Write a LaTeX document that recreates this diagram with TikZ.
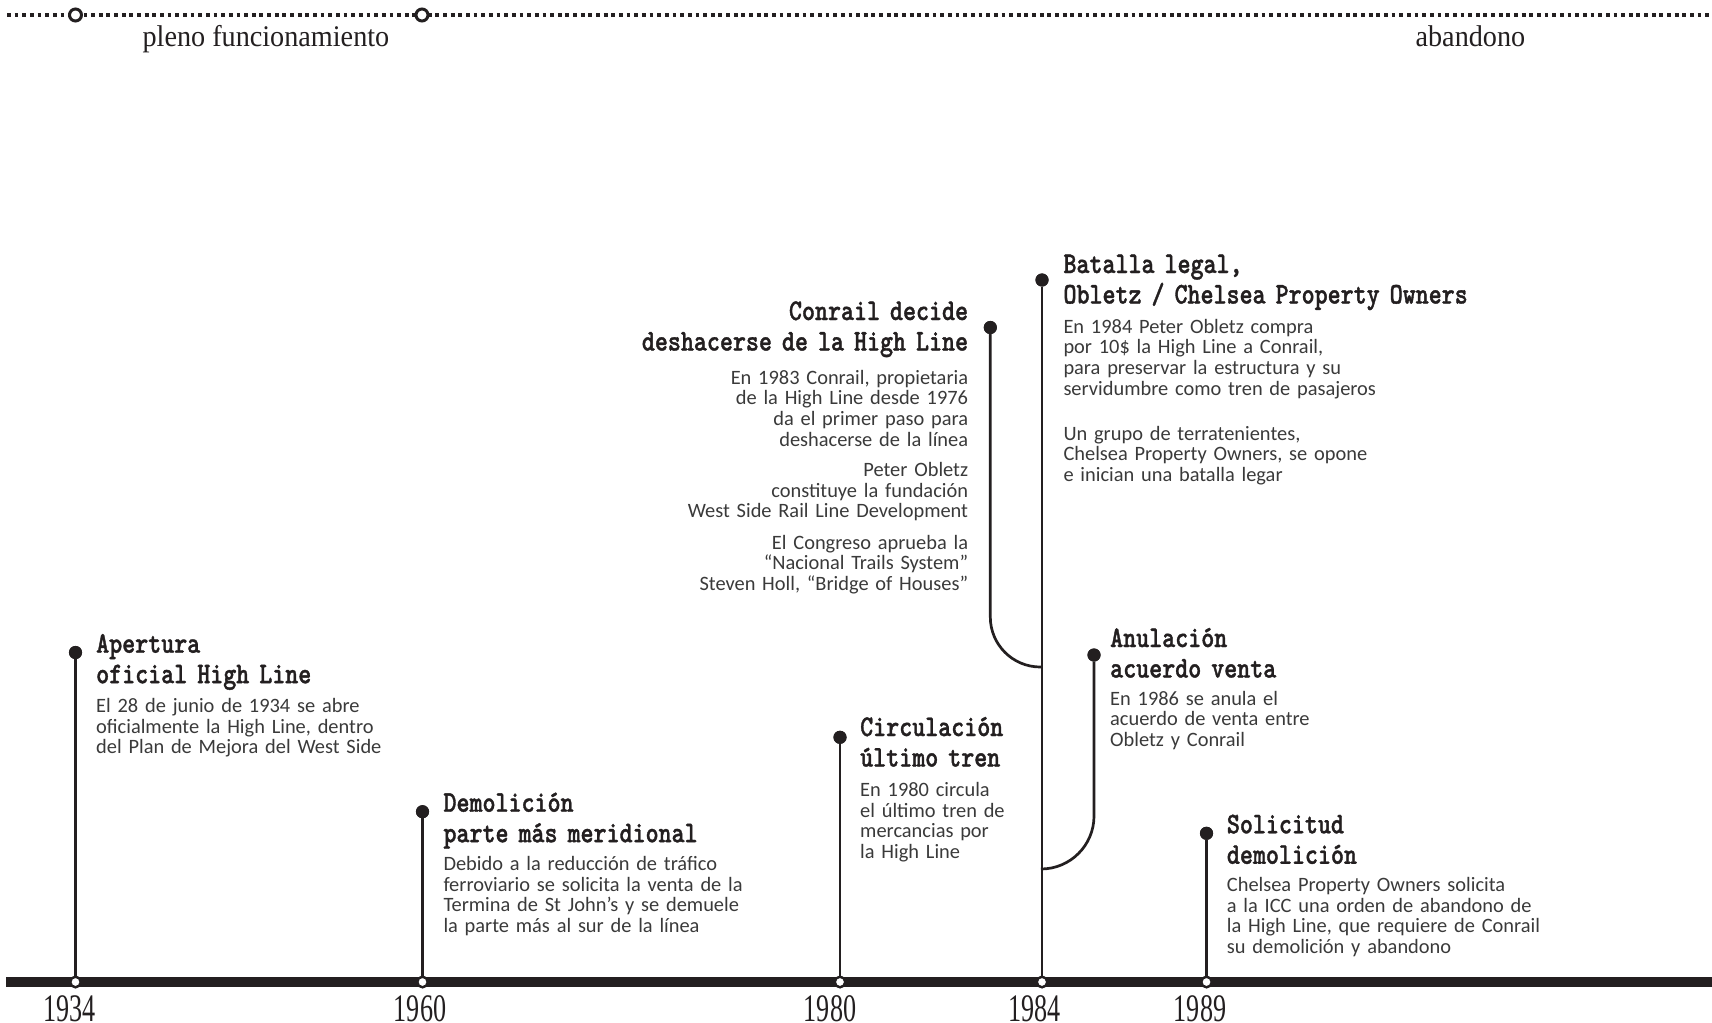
\documentclass[tikz,border=0pt]{standalone}
\usepackage{fontspec}
\setmainfont{Carlito}
\newfontfamily\titlefont{lmmonolt10-bold.otf}[FakeStretch=0.826,FakeBold=1.2]
\newfontfamily\yearfont{Liberation Serif}[FakeStretch=0.67]
\newfontfamily\labfont{Liberation Serif}[FakeStretch=0.94]
\definecolor{ink}{HTML}{231F20}
\definecolor{bodytext}{HTML}{3A3A3A}
\tikzset{
 ttl/.style={anchor=base west, inner sep=0pt, text width=600pt, align=left, font=\titlefont\fontsize{30pt}{30.5pt}\selectfont, text=ink},
 ttlr/.style={ttl, anchor=base east, align=right},
 body/.style={anchor=base west, inner sep=0pt, text width=500pt, align=left, font=\fontsize{20.4pt}{20.6pt}\selectfont, text=bodytext},
 bodyr/.style={body, anchor=base east, align=right},
 evdot/.style={circle, fill=ink, inner sep=0pt, minimum size=13pt},
 yrdot/.style={circle, draw=ink, fill=white, line width=2.3pt, inner sep=0pt, minimum size=10.4pt},
 topdot/.style={circle, draw=ink, fill=white, line width=3pt, inner sep=0pt, minimum size=12pt},
 stem/.style={draw=ink, line width=2.7pt},
 year/.style={anchor=base, inner sep=0pt, font=\yearfont\fontsize{39pt}{40pt}\selectfont, text=ink},
 phase/.style={anchor=base west, inner sep=0pt, font=\labfont\fontsize{30pt}{32pt}\selectfont, text=ink},
}
\begin{document}
\begin{tikzpicture}[x=1pt,y=-1pt]
\useasboundingbox[fill=white] (0,0) rectangle (1712,1022);
% top phase line
\coordinate (topL) at (7,15);
\coordinate (topR) at (1712,15);
\draw[ink, line width=3.8pt, dash pattern=on 3.8pt off 3.85pt] (topL) -- (topR);
\node[topdot] (t1) at (75.5,15) {};
\node[topdot] (t2) at (422,15) {};
\node[phase] (pleno) at (142.4,47) {pleno funcionamiento};
\node[phase] (aband) at (1415.4,47) {abandono};

% bar coordinates
\coordinate (barL) at (6,982);
\coordinate (barR) at (1712,982);

% event dots
\node[evdot] (d1934) at (75.5,652.5) {};
\node[evdot] (d1960) at (422.5,811.7) {};
\node[evdot] (d1980) at (840,737.3) {};
\node[evdot] (d1984) at (1042,280) {};
\node[evdot] (dcon) at (990.3,327.5) {};
\node[evdot] (danu) at (1094,655) {};
\node[evdot] (d1989) at (1206.5,833.3) {};
\coordinate (j1) at (1042,667);
\coordinate (j2) at (1042,869);

% bar circles
\node[yrdot] (b1934) at (75.5,982) {};
\node[yrdot] (b1960) at (422.5,982) {};
\node[yrdot] (b1980) at (840,982) {};
\node[yrdot] (b1984) at (1042,982) {};
\node[yrdot] (b1989) at (1206.5,982) {};

% stems
\draw[stem] (d1934) -- (b1934);
\draw[stem] (d1960) -- (b1960);
\draw[stem] (d1980) -- (b1980);
\draw[stem] (d1984) -- (b1984);
\draw[stem] (d1989) -- (b1989);
\draw[stem, rounded corners=50pt] (dcon) |- (j1);
\draw[stem, rounded corners=53pt] (danu) |- (j2);
\draw[ink, line width=10.6pt] (barL) -- (barR);
\foreach \n in {b1934,b1960,b1980,b1984,b1989}{
  \draw[ink, fill=white, line width=2.3pt] (\n) circle (5.2pt);
}
\foreach \n in {d1934,d1960,d1980,d1984,dcon,danu,d1989}{
  \fill[ink] (\n) circle (6.6pt);
}

% years
\node[year] (y1934) at (69.3,1021.5) {1934};
\node[year] (y1960) at (420,1021.5) {1960};
\node[year] (y1980) at (830,1021.5) {1980};
\node[year] (y1984) at (1034.5,1021.5) {1984};
\node[year] (y1989) at (1200,1021.5) {1989};

% 1934
\node[ttl] (h1934) at (96,652.7) {Apertura\\oficial High Line};
\node[body] (x1934) at (96,712.7) {El 28 de junio de 1934 se abre\\oficialmente la High Line, dentro\\del Plan de Mejora del West Side};
% 1960
\node[ttl] (h1960) at (443.3,811.7) {Demolición\\parte más meridional};
\node[body] (x1960) at (443.3,870.7) {Debido a la reducción de tráfico\\ferroviario se solicita la venta de la\\Termina de St John’s y se demuele\\la parte más al sur de la línea};
% 1980
\node[ttl] (h1980) at (860,736) {Circulación\\último tren};
\node[body] (x1980) at (860,796.7) {En 1980 circula\\el último tren de\\mercancias por\\la High Line};
% 1984
\node[ttl] (h1984) at (1063.3,273) {Batalla legal,\\Obletz / Chelsea Property Owners};
\node[body] (x1984a) at (1063.3,333.3) {En 1984 Peter Obletz compra\\por 10\$ la High Line a Conrail,\\para preservar la estructura y su\\servidumbre como tren de pasajeros};
\node[body] (x1984b) at (1063.3,440) {Un grupo de terratenientes,\\Chelsea Property Owners, se opone\\e inician una batalla legar};
% Conrail
\node[ttlr] (hcon) at (968.3,320) {Conrail decide\\deshacerse de la High Line};
\node[bodyr] (xcona) at (968.3,384.3) {En 1983 Conrail, propietaria\\de la High Line desde 1976\\da el primer paso para\\deshacerse de la línea};
\node[bodyr] (xconb) at (968.3,476.7) {Peter Obletz\\constituye la fundación\\West Side Rail Line Development};
\node[bodyr] (xconc) at (968.3,549.3) {El Congreso aprueba la\\“Nacional Trails System”\\Steven Holl, “Bridge of Houses”};
% Anulacion
\node[ttl] (hanu) at (1110,647) {Anulación\\acuerdo venta};
\node[body] (xanu) at (1110,705) {En 1986 se anula el\\acuerdo de venta entre\\Obletz y Conrail};
% 1989
\node[ttl] (h1989) at (1226.7,833.3) {Solicitud\\demolición};
\node[body] (x1989) at (1226.7,891.7) {Chelsea Property Owners solicita\\a la ICC una orden de abandono de\\la High Line, que requiere de Conrail\\su demolición y abandono};
\end{tikzpicture}
\end{document}
